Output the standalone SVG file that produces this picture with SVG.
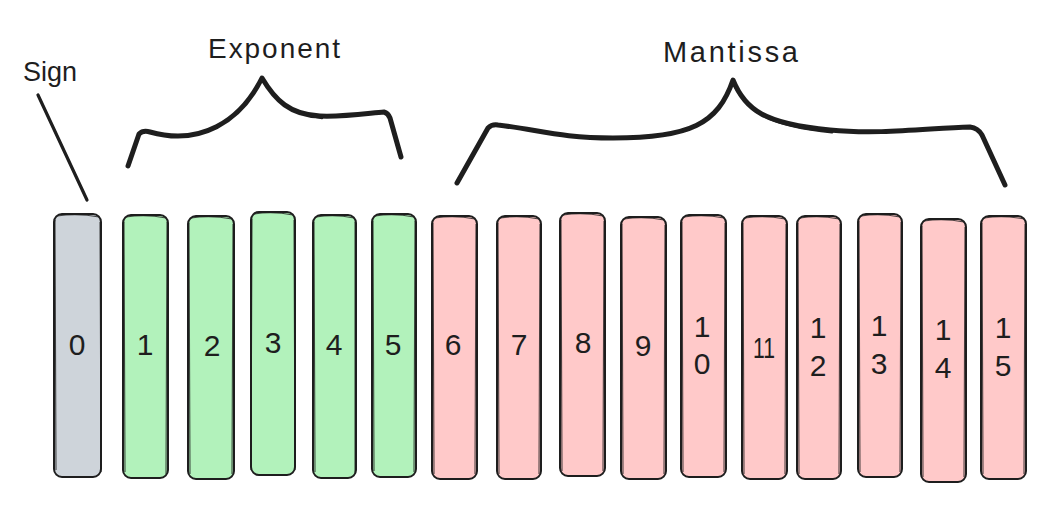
<svg xmlns="http://www.w3.org/2000/svg" width="1055" height="510" viewBox="0 0 1055 510">
<style>
.bar{stroke:#1e1e1e;stroke-width:2;stroke-linejoin:round}
.sk{fill:none;stroke:#1e1e1e;stroke-width:1.1;opacity:.8}
.g{fill:#ced4da}.e{fill:#b2f2bb}.m{fill:#ffc9c9}
.d{font-family:"Liberation Sans",Arial,sans-serif;font-size:30px;fill:#1e1e1e;text-anchor:middle}
.lbl{font-family:"Liberation Sans",Arial,sans-serif;fill:#1e1e1e}
.br{fill:none;stroke:#1e1e1e;stroke-linecap:round;stroke-linejoin:round}
</style>
<rect width="1055" height="510" fill="#ffffff"/>
<g id="connectors">
<path class="br" stroke-width="3.2" d="M38,95 L87,200"/>
<path class="br" stroke-width="5" d="M128,166 L139,134 Q143,130 150,132 C200,146 240,122 262,78 C275,100 290,115 320,116 C345,117 370,113 384,112 Q388,113 390,118 L401,157"/>
<path class="br" stroke-width="2.5" d="M264,82 C278,104 294,114 322,118"/>
<path class="br" stroke-width="5" d="M457,183 L488,128 Q492,124 498,125 C540,130 560,138 613,138 C690,138 718,124 733,80 C745,110 765,124 830,130 C880,135 930,128 970,127 Q978,128 982,135 L1005,185"/>
<path class="br" stroke-width="3" d="M735,86 C748,112 770,126 832,132"/>
</g>
<g id="label-sign"><text class="lbl" x="23" y="81" font-size="28" textLength="54" lengthAdjust="spacingAndGlyphs">Sign</text></g>
<g id="label-exponent"><text class="lbl" x="208" y="58" font-size="28" textLength="132" lengthAdjust="spacing">Exponent</text></g>
<g id="label-mantissa"><text class="lbl" x="663" y="62" font-size="29" textLength="135" lengthAdjust="spacing">Mantissa</text></g>

<g id="bit-0"><rect class="bar g" x="54" y="214" width="47" height="263" rx="8"/><path class="sk" d="M57,216 Q78,213 99,217 M55,220 L56,470 M100,222 L101,472"/><text class="d" x="77" y="355">0</text></g>
<g id="bit-1"><rect class="bar e" x="123" y="215" width="45" height="263" rx="8"/><path class="sk" d="M126,217 Q146,214 166,218 M124,222 L125,472 M167,222 L166,474"/><text class="d" x="145" y="355">1</text></g>
<g id="bit-2"><rect class="bar e" x="188" y="216" width="46" height="263" rx="8"/><path class="sk" d="M191,218 Q211,215 232,219 M189,223 L190,474 M233,224 L232,474"/><text class="d" x="212" y="356">2</text></g>
<g id="bit-3"><rect class="bar e" x="251" y="212" width="44" height="263" rx="8"/><path class="sk" d="M254,214 Q273,211 293,215 M252,219 L251,470 M294,220 L295,470"/><text class="d" x="273" y="353">3</text></g>
<g id="bit-4"><rect class="bar e" x="313" y="215" width="43" height="263" rx="8"/><path class="sk" d="M316,217 Q335,214 354,218 M314,222 L315,472 M355,222 L355,474"/><text class="d" x="334" y="355">4</text></g>
<g id="bit-5"><rect class="bar e" x="372" y="214" width="44" height="263" rx="8"/><path class="sk" d="M375,216 Q394,213 414,217 M373,221 L374,471 M415,221 L414,472"/><text class="d" x="393" y="355">5</text></g>
<g id="bit-6"><rect class="bar m" x="432" y="216" width="45" height="263" rx="8"/><path class="sk" d="M435,218 Q455,215 475,219 M433,223 L434,474 M476,224 L475,474"/><text class="d" x="453" y="355">6</text></g>
<g id="bit-7"><rect class="bar m" x="497" y="216" width="44" height="263" rx="8"/><path class="sk" d="M500,218 Q519,215 539,219 M498,223 L499,474 M540,224 L539,474"/><text class="d" x="519" y="355">7</text></g>
<g id="bit-8"><rect class="bar m" x="560" y="213" width="45" height="263" rx="8"/><path class="sk" d="M563,215 Q583,212 603,216 M561,220 L562,471 M604,221 L603,471"/><text class="d" x="583" y="353">8</text></g>
<g id="bit-9"><rect class="bar m" x="621" y="217" width="45" height="262" rx="8"/><path class="sk" d="M624,219 Q644,216 664,220 M622,224 L623,474 M665,225 L664,474"/><text class="d" x="643" y="356">9</text></g>
<g id="bit-10"><rect class="bar m" x="681" y="215" width="45" height="262" rx="8"/><path class="sk" d="M684,217 Q704,214 724,218 M682,222 L683,472 M725,223 L724,472"/><text class="d" x="702" y="337">1</text><text class="d" x="702" y="374">0</text></g>
<g id="bit-11"><rect class="bar m" x="742" y="216" width="45" height="263" rx="8"/><path class="sk" d="M745,218 Q765,215 785,219 M743,223 L744,474 M786,224 L785,474"/><text class="d" x="764" y="358" textLength="22" lengthAdjust="spacingAndGlyphs">11</text></g>
<g id="bit-12"><rect class="bar m" x="797" y="216" width="44" height="263" rx="8"/><path class="sk" d="M800,218 Q819,215 839,219 M798,223 L799,474 M840,224 L839,474"/><text class="d" x="818" y="338">1</text><text class="d" x="818" y="376">2</text></g>
<g id="bit-13"><rect class="bar m" x="858" y="214" width="44" height="263" rx="8"/><path class="sk" d="M861,216 Q880,213 900,217 M859,221 L860,472 M901,222 L900,472"/><text class="d" x="879" y="336">1</text><text class="d" x="879" y="374">3</text></g>
<g id="bit-14"><rect class="bar m" x="921" y="219" width="45" height="263" rx="8"/><path class="sk" d="M924,221 Q944,218 964,222 M922,226 L923,477 M965,227 L964,477"/><text class="d" x="943" y="340">1</text><text class="d" x="943" y="378">4</text></g>
<g id="bit-15"><rect class="bar m" x="981" y="216" width="45" height="263" rx="8"/><path class="sk" d="M984,218 Q1004,215 1024,219 M982,223 L983,474 M1025,224 L1024,474"/><text class="d" x="1003" y="338">1</text><text class="d" x="1003" y="376">5</text></g>
</svg>
